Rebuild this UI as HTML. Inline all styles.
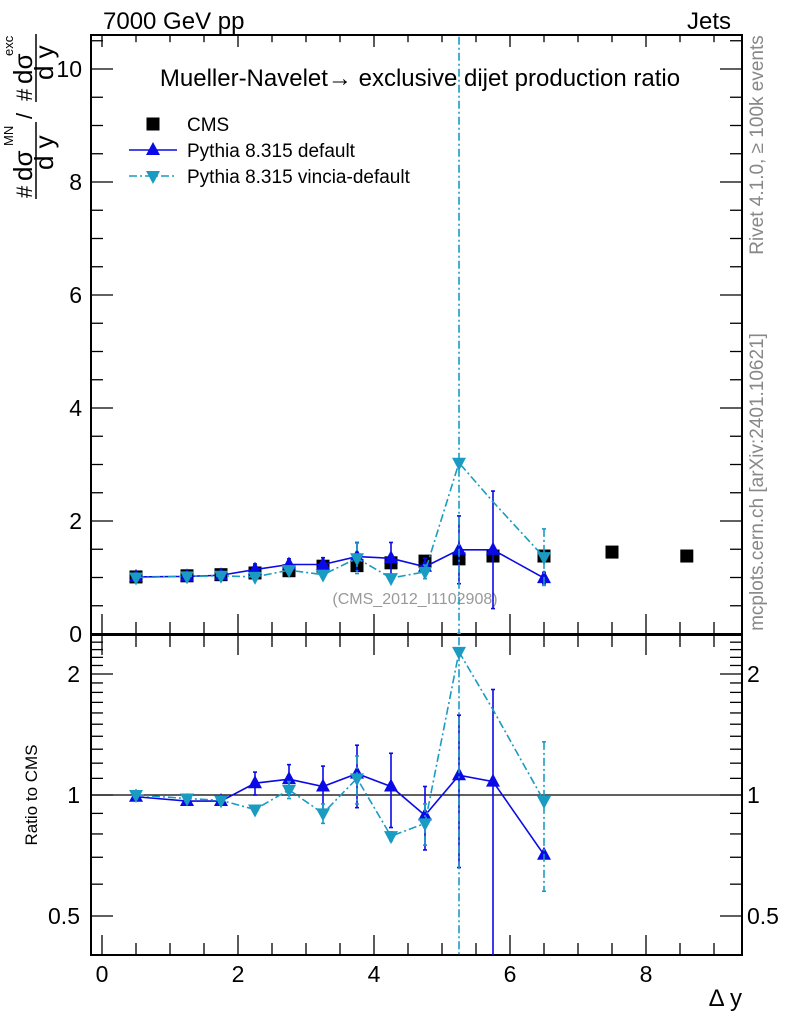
<!DOCTYPE html>
<html><head><meta charset="utf-8"><style>
html,body{margin:0;background:#fff;overflow:hidden;width:786px;height:1024px;}
svg{display:block;font-family:"Liberation Sans",sans-serif;}
</style></head><body>
<svg id="c" width="786" height="1024" viewBox="0 0 786 1024"></svg>
<script>
const xs=[0.5,1.25,1.75,2.25,2.75,3.25,3.75,4.25,4.75,5.25,5.75,6.5,7.5,8.6];
const cmsVals=[1.01,1.03,1.05,1.08,1.12,1.2,1.21,1.26,1.29,1.33,1.38,1.38,1.45,1.38];
const defVals=[1.01,1.02,1.04,1.14,1.23,1.23,1.37,1.34,1.19,1.49,1.49,0.99];
const defErr=[0.02,0.02,0.02,0.1,0.1,0.12,0.25,0.28,0.15,0.6,1.04,0.1];
const vinVals=[1.0,1.02,1.03,1.01,1.13,1.05,1.34,0.99,1.1,3.03,2.34,1.36];
const vinErr=[0.02,0.02,0.02,0.03,0.05,0.05,0.27,0.05,0.12,20,0,0.5];
const defRatio=[0.99,0.966,0.966,1.07,1.095,1.05,1.13,1.05,0.89,1.12,1.08,0.71];
const defRatioErr=[0.01,0.01,0.01,0.07,0.095,0.13,0.2,0.22,0.16,0.46,0.75,0];
const vinRatio=[1.0,0.98,0.97,0.92,1.03,0.9,1.1,0.79,0.85,2.27,1.63,0.966];
const vinRatioErr=[0.01,0.01,0.01,0.02,0.05,0.05,0.15,0.02,0.1,20,0,0.39];
const xTicks=[0,2,4,6,8];
const yTicks=[0,2,4,6,8,10];
const rTicks=[0.5,1,2];

const NS="http://www.w3.org/2000/svg";
const svg=document.getElementById('c');
const L=91,R=742,T=35,B=634,RT=635,RB=955;
const X=v=>102+68*v;
const Y=v=>634-56.5*v;
const RY=v=>795-121*Math.log2(v);
const DEF="#0a0ae6",VIN="#1a9cc2";
function el(tag,attrs,parent){const e=document.createElementNS(NS,tag);for(const k in attrs)e.setAttribute(k,attrs[k]);(parent||svg).appendChild(e);return e;}
function txt(s,attrs,parent){const e=el('text',attrs,parent);e.textContent=s;return e;}

const defs=el('defs',{});
const c1=el('clipPath',{id:'cm'},defs);el('rect',{x:L,y:T,width:R-L,height:B-T},c1);
const c2=el('clipPath',{id:'cr'},defs);el('rect',{x:L,y:RT,width:R-L,height:RB-RT},c2);

let f=el('rect',{x:L,y:T,width:R-L,height:B-T,fill:'none',stroke:'#000','stroke-width':2});


f=el('rect',{x:L,y:RT,width:R-L,height:RB-RT,fill:'none',stroke:'#000','stroke-width':2});



for(let v=0;v<=9.4;v+=0.5){
  const major=Math.abs(v-Math.round(v/2)*2)<1e-6;
  const len=major?20:12;
  const x=X(v);
  el('line',{x1:x,x2:x,y1:B,y2:B-len,stroke:'#000','stroke-width':1.3});
  el('line',{x1:x,x2:x,y1:T,y2:T+len*0.6,stroke:'#000','stroke-width':1.3});
  el('line',{x1:x,x2:x,y1:RB,y2:RB-len,stroke:'#000','stroke-width':1.3});
  el('line',{x1:x,x2:x,y1:RT,y2:RT+len,stroke:'#000','stroke-width':1.3});
}
xTicks.forEach(v=>{const t=txt(String(v),{x:X(v),y:982,'font-size':23,'text-anchor':'middle'});

});
let t=txt('Δ y',{x:742,y:1006,'font-size':24,'text-anchor':'end'});



for(let v=0;v<=10.6;v+=0.5){
  const major=Math.abs(v-Math.round(v/2)*2)<1e-6;
  const len=major?22:12;const y=Y(v);
  el('line',{x1:L,x2:L+len,y1:y,y2:y,stroke:'#000','stroke-width':1.3});
  el('line',{x1:R,x2:R-len,y1:y,y2:y,stroke:'#000','stroke-width':1.3});
}
yTicks.forEach(v=>{const t=txt(String(v),{x:82,y:Y(v)+8,'font-size':23,'text-anchor':'end'});

});

const rMinor=[0.4,0.5,0.6,0.7,0.8,0.9,1,1.1,1.2,1.3,1.4,1.5,1.6,1.7,1.8,1.9,2,2.1,2.2,2.3,2.4];
rMinor.forEach(v=>{const y=RY(v);if(y<RT||y>RB)return;const major=rTicks.includes(v);const len=major?22:12;
  el('line',{x1:L,x2:L+len,y1:y,y2:y,stroke:'#000','stroke-width':1.3});
  el('line',{x1:R,x2:R-len,y1:y,y2:y,stroke:'#000','stroke-width':1.3});});
rTicks.forEach(v=>{let t=txt(String(v),{x:80,y:RY(v)+8,'font-size':23,'text-anchor':'end'});


t=txt(String(v),{x:747,y:RY(v)+8,'font-size':23});

});
el('line',{x1:L,x2:R,y1:RY(1),y2:RY(1),stroke:'#000','stroke-width':1.3});
t=txt('Ratio to CMS',{x:0,y:0,'font-size':17,'text-anchor':'middle',transform:'translate(37,795) rotate(-90)'});



t=txt('7000 GeV pp',{x:103,y:29,'font-size':24});


t=txt('Jets',{x:731,y:29,'font-size':24,'text-anchor':'end'});


t=txt('Mueller-Navelet→ exclusive dijet production ratio',{x:420,y:86,'font-size':24,'text-anchor':'middle'});


t=txt('(CMS_2012_I1102908)',{x:415,y:604,'font-size':16,fill:'#999','text-anchor':'middle'});


t=txt('Rivet 4.1.0, ≥ 100k events',{x:0,y:0,'font-size':19,fill:'#888','text-anchor':'middle',transform:'translate(763,145) rotate(-90)'});


t=txt('mcplots.cern.ch [arXiv:2401.10621]',{x:0,y:0,'font-size':19,fill:'#888','text-anchor':'middle',transform:'translate(763,482) rotate(-90)'});



const yt=el('g',{});


function rt(s,x,y,size){return txt(s,{x:0,y:0,'font-size':size,transform:`translate(${x},${y}) rotate(-90)`},yt);}
rt('#',32,198,22);
rt('dσ',32,181,26);
rt('MN',13,146,13);
rt('d y',53,170,26);
el('line',{x1:36,x2:36,y1:199,y2:122,stroke:'#000','stroke-width':1.5},yt);
rt('/',32,119,22);
rt('#',32,101,22);
rt('dσ',32,84,26);
rt('exc',13,56,13);
rt('d y',53,80,26);
el('line',{x1:36,x2:36,y1:102,y2:34,stroke:'#000','stroke-width':1.5},yt);

function square(x,y,g){return el('rect',{x:x-6.5,y:y-6.5,width:13,height:13,fill:'#000'},g);}
function triUp(x,y,c,g){return el('polygon',{points:`${x},${y-8} ${x-7},${y+5} ${x+7},${y+5}`,fill:c},g);}
function triDn(x,y,c,g){return el('polygon',{points:`${x},${y+8} ${x-7},${y-5} ${x+7},${y-5}`,fill:c},g);}

function series(vals,errs,Yf,color,dash,marker,clip,name,skip){
  const g=el('g',{'clip-path':`url(#${clip})`});
  
  
  const pts=vals.map((v,i)=>`${X(xs[i])},${Yf(v)}`).join(' ');
  el('polyline',{points:pts,fill:'none',stroke:color,'stroke-width':1.6,'stroke-dasharray':dash||''},g);
  vals.forEach((v,i)=>{
    const e=errs[i];
    if(e>0){const lo=Math.max(v-e,0.01);const y1=Yf(v+e),y2=Yf(lo);const x=X(xs[i]);
      el('line',{x1:x,x2:x,y1:y1,y2:y2,stroke:color,'stroke-width':1.6,'stroke-dasharray':dash||''},g);
      el('line',{x1:x-2,x2:x+2,y1:y1,y2:y1,stroke:color,'stroke-width':1.6},g);
      el('line',{x1:x-2,x2:x+2,y1:y2,y2:y2,stroke:color,'stroke-width':1.6},g);}
    if(skip&&skip.includes(i))return;
    const m=marker(X(xs[i]),Yf(v),color,g);
    
    
  });
}
const cg=el('g',{'clip-path':'url(#cm)'});


cmsVals.forEach((v,i)=>{const m=square(X(xs[i]),Y(v),cg);

});

series(defVals,defErr,Y,DEF,'',triUp,'cm','pythia-default-series');
series(vinVals,vinErr,Y,VIN,'8,3,2,3',triDn,'cm','pythia-vincia-series',[10]);
series(defRatio,defRatioErr,RY,DEF,'',triUp,'cr','pythia-default-ratio');
series(vinRatio,vinRatioErr,RY,VIN,'8,3,2,3',triDn,'cr','pythia-vincia-ratio',[10]);

const lg=el('g',{});


square(153,124,lg);
txt('CMS',{x:187,y:131,'font-size':19},lg);
el('line',{x1:129,x2:177,y1:150,y2:150,stroke:DEF,'stroke-width':1.6},lg);
triUp(153,150,DEF,lg);
txt('Pythia 8.315 default',{x:187,y:157,'font-size':19},lg);
el('line',{x1:129,x2:177,y1:176,y2:176,stroke:VIN,'stroke-width':1.6,'stroke-dasharray':'8,3,2,3'},lg);
triDn(153,176,VIN,lg);
txt('Pythia 8.315 vincia-default',{x:187,y:183,'font-size':19},lg);
</script>
</body></html>
